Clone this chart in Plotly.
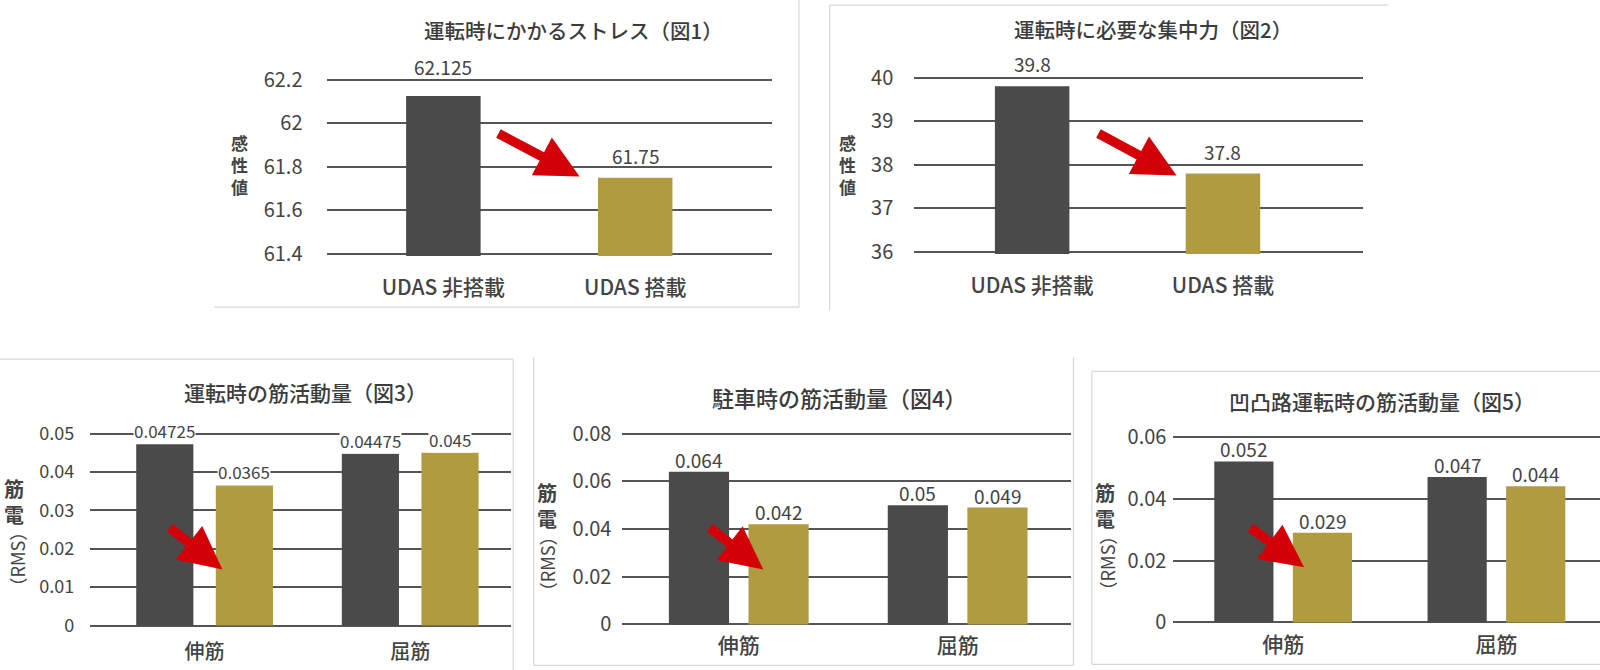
import plotly.graph_objects as go

W = 1600
H = 670
K = 1600 / 1568  # reference coordinates were read at 1568 wide

DARK = "#4a4a4a"
GOLD = "#b09b40"
RED = "#d40008"
TEXT = "#444444"
GRID = "#555555"
BORDER = "#d8d8d8"
FONT = "Noto Sans CJK JP"

# top charts
titles = ["運転時にかかるストレス（図1）", "運転時に必要な集中力（図2）",
          "運転時の筋活動量（図3）", "駐車時の筋活動量（図4）", "凹凸路運転時の筋活動量（図5）"]
udas_labels = ["UDAS 非搭載", "UDAS 搭載"]
stress_values = [62.125, 61.75]
stress_ticks = [61.4, 61.6, 61.8, 62, 62.2]
focus_values = [39.8, 37.8]
focus_ticks = [36, 37, 38, 39, 40]

# bottom charts
muscle_labels = ["伸筋", "屈筋"]
fig3_without = [0.04725, 0.04475]
fig3_with = [0.0365, 0.045]
fig3_ticks = [0, 0.01, 0.02, 0.03, 0.04, 0.05]
fig4_without = [0.064, 0.05]
fig4_with = [0.042, 0.049]
fig4_ticks = [0, 0.02, 0.04, 0.06, 0.08]
fig5_without = [0.052, 0.047]
fig5_with = [0.029, 0.044]
fig5_ticks = [0, 0.02, 0.04, 0.06]


def px(v):
    return v * K


def xp(v):
    return px(v) / W


def yp(v):
    return 1 - px(v) / H


fig = go.Figure()
annotations = []
shapes = []


def add_chart(n, box, ticks, series, cats, title_pos, title_size, bar_w, spacing, first, sizes, ticklen, xlab,
              shifts=(-2, -2), label_bg="rgba(0,0,0,0)"):
    x0, x1, ytop, ybot = box
    tick_size, label_size, cat_size = sizes
    xname = "x" if n == 1 else "x%d" % n
    yname = "y" if n == 1 else "y%d" % n
    # x data units: one unit is the distance between the two categories
    rng = [(x0 - first) / spacing, (x1 - first) / spacing]
    # a little room past the end ticks, plotly drops gridlines sitting right on the range ends
    pad = (ticks[-1] - ticks[0]) * 2 / (ybot - ytop)
    for vals, color, off in series:
        fig.add_trace(go.Bar(x=list(range(len(vals))), y=vals, width=bar_w / spacing,
                             offset=(off - bar_w / 2) / spacing,
                             marker=dict(color=color, line=dict(width=0)),
                             xaxis=xname, yaxis=yname, showlegend=False, hoverinfo="skip"))
        for i, v in enumerate(vals):
            annotations.append(dict(x=i + off / spacing, y=v, xref=xname, yref=yname, text=str(v),
                                    showarrow=False, xanchor="center", yanchor="bottom", yshift=shifts[i],
                                    bgcolor=label_bg, borderpad=0,
                                    font=dict(family=FONT, size=label_size, color=TEXT)))
    fig.update_layout({
        ("xaxis" if n == 1 else "xaxis%d" % n): dict(
            domain=[xp(x0), xp(x1)], range=rng, tickmode="array", tickvals=list(range(len(cats))), ticktext=cats,
            showgrid=False, zeroline=False, showline=False, ticks="outside", ticklen=xlab, tickcolor="rgba(0,0,0,0)",
            automargin=False, tickfont=dict(family=FONT, size=cat_size, color=TEXT, weight=500), anchor=yname),
        ("yaxis" if n == 1 else "yaxis%d" % n): dict(
            domain=[yp(ybot + 2), yp(ytop - 2)], range=[ticks[0] - pad, ticks[-1] + pad], tickmode="array",
            tickvals=ticks, ticktext=[str(t) for t in ticks], showgrid=True, gridcolor=GRID, gridwidth=2,
            zeroline=False, showline=False, ticks="outside", ticklen=ticklen, tickcolor="rgba(0,0,0,0)",
            automargin=False, tickfont=dict(family=FONT, size=tick_size, color=TEXT), anchor=xname),
    })
    annotations.append(dict(x=xp(title_pos[0]), y=yp(title_pos[1]), xref="paper", yref="paper", text=titles[n - 1],
                            showarrow=False, xanchor="center", yanchor="middle",
                            font=dict(family=FONT, size=title_size, color="#3c3c3c", weight=500)))


def add_label(x, y, text, angle=0, size=16, weight=400):
    annotations.append(dict(x=xp(x), y=yp(y), xref="paper", yref="paper", text=text, showarrow=False,
                            xanchor="center", yanchor="middle", textangle=angle,
                            font=dict(family=FONT, size=size, color=TEXT, weight=weight)))


def add_arrow(x0, y0, x1, y1):
    annotations.append(dict(x=xp(x1), y=yp(y1), xref="paper", yref="paper", ax=px(x0 - x1), ay=px(y0 - y1),
                            axref="pixel", ayref="pixel", text="", showarrow=True, arrowhead=2, arrowsize=0.9,
                            arrowwidth=9.5, arrowcolor=RED))


def add_edge(x0, y0, x1, y1):
    shapes.append(dict(type="line", xref="paper", yref="paper", x0=xp(x0), x1=xp(x1), y0=yp(y0), y1=yp(y1),
                       line=dict(color=BORDER, width=1.2), layer="below"))


# the cards are cut off in the source, only some of their edges show
add_edge(210, 301, 783, 301)
add_edge(783, 0, 783, 301)
add_edge(813, 5, 1361, 5)
add_edge(813, 5, 813, 304)
add_edge(0, 352, 503, 352)
add_edge(503, 352, 503, 657)
add_edge(523, 350, 523, 652)
add_edge(523, 652, 1052, 652)
add_edge(1052, 350, 1052, 652)
add_edge(1070, 364, 1568, 364)
add_edge(1070, 364, 1070, 651)
add_edge(1070, 651, 1568, 651)

add_chart(1, (320, 757, 78, 249), stress_ticks, [(stress_values, DARK, 0)], udas_labels, (562, 29), 20.5,
          73, 188, 434.5, (20, 19, 21), 19, 13, shifts=(15, 8))
fig.data[-1].marker.color = [DARK, GOLD]
add_chart(2, (896, 1336, 76, 247), focus_ticks, [(focus_values, DARK, 0)], udas_labels, (1130, 28), 20.5,
          73, 187, 1011.5, (20, 19, 21), 16, 13, shifts=(8, 8))
fig.data[-1].marker.color = [DARK, GOLD]
add_chart(3, (88, 501, 425, 613), fig3_ticks, [(fig3_without, DARK, -39), (fig3_with, GOLD, 39)], muscle_labels,
          (299, 384), 21, 56, 201.5, 200.5, (18, 17, 20), 11, 6, shifts=(0, 0), label_bg="white")
add_chart(4, (610, 1050, 425, 612), fig4_ticks, [(fig4_without, DARK, -39), (fig4_with, GOLD, 39)], muscle_labels,
          (823, 389), 22, 59, 214.5, 724, (20, 19, 21), 6, 0)
add_chart(5, (1150, 1568, 428, 610), fig5_ticks, [(fig5_without, DARK, -38.5), (fig5_with, GOLD, 38.5)],
          muscle_labels, (1354, 393), 21, 58, 209, 1257.5, (20, 19, 21), 2, 1)

add_label(235, 161, "感<br>性<br>値", size=17, weight=700)
add_label(831, 161, "感<br>性<br>値", size=17, weight=700)
add_label(14, 491, "筋<br>電", size=20, weight=700)
add_label(536, 495, "筋<br>電", size=20, weight=700)
add_label(1083, 495, "筋<br>電", size=20, weight=700)
add_label(17, 548, "（RMS）", angle=-90, size=18)
add_label(536, 552, "（RMS）", angle=-90, size=18)
add_label(1085, 552, "（RMS）", angle=-90, size=18)

add_arrow(487, 130, 568, 173)
add_arrow(1075, 130, 1153, 172)
add_arrow(165, 516, 218, 558)
add_arrow(694, 516, 748, 558)
add_arrow(1224, 516, 1278, 556)

fig.update_layout(width=W, height=H, margin=dict(l=0, r=0, t=0, b=0), paper_bgcolor="white", plot_bgcolor="white",
                  barmode="overlay", showlegend=False, annotations=annotations, shapes=shapes,
                  font=dict(family=FONT, color=TEXT))

fig.write_html("out.html", post_script="document.body.style.margin='0';",
               config={"displayModeBar": False})
